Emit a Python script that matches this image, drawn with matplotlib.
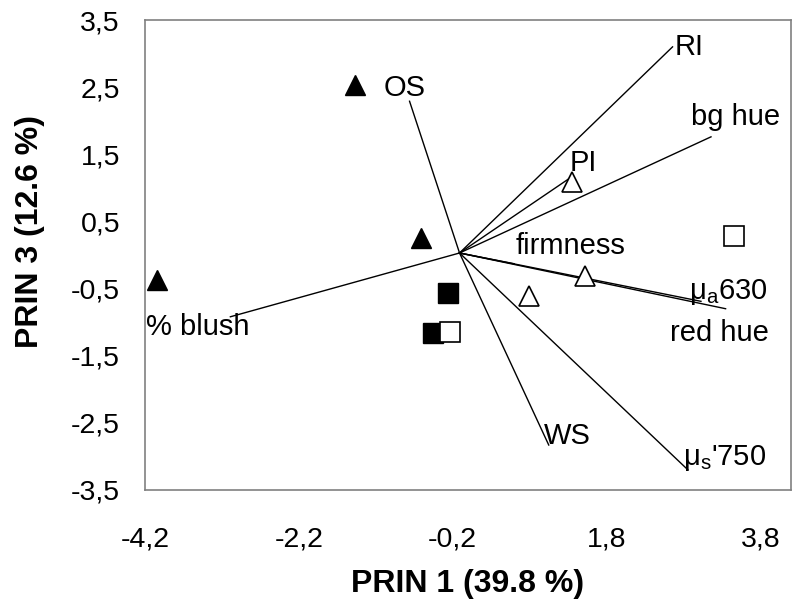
import matplotlib
matplotlib.use("Agg")
import matplotlib.pyplot as plt
from matplotlib.ticker import FuncFormatter

plt.rcParams["font.family"] = ["Liberation Sans", "DejaVu Sans"]
plt.rcParams["mathtext.fontset"] = "custom"
plt.rcParams["mathtext.rm"] = "Liberation Sans"

# PCA scores (PRIN 1, PRIN 3)
filled_tri_x = [-4.05, -1.47, -0.61]
filled_tri_y = [-0.37, 2.53, 0.25]
open_tri_x = [1.35, 0.79, 1.52]
open_tri_y = [1.09, -0.61, -0.31]
filled_sq_x = [-0.26, -0.45]
filled_sq_y = [-0.57, -1.16]
open_sq_x = [-0.23, 3.46]
open_sq_y = [-1.15, 0.28]

# loading vectors, all starting at the common origin
origin = (-0.11, 0.03)
vec_names = ["RI", "bg hue", "PI", "OS", "% blush", "WS",
             "mus750", "mua630", "red hue", "firmness"]
vec_x = [2.66, 3.16, 1.33, -0.76, -3.09, 1.05, 2.86, 3.03, 3.35, 0.60]
vec_y = [3.10, 1.76, 1.15, 2.29, -0.92, -2.83, -3.20, -0.69, -0.80, -0.13]

# label text and where it sits
label_text = ["RI", "bg hue", "PI", "OS", "% blush", "WS",
              r"$\mathregular{\mu_s}$'750", r"$\mathregular{\mu_a}$630",
              "red hue", "firmness"]
label_x = [2.88, 3.48, 1.50, -0.83, -3.52, 1.29, 3.34, 3.38, 3.27, 1.33]
label_y = [3.10, 2.06, 1.37, 2.49, -1.07, -2.70, -3.02, -0.55, -1.16, 0.13]

x_ticks = [-4.2, -2.2, -0.2, 1.8, 3.8]
y_ticks = [-3.5, -2.5, -1.5, -0.5, 0.5, 1.5, 2.5, 3.5]

fig = plt.figure(figsize=(7.92, 6.01), dpi=100)
ax = fig.add_axes([0.1831, 0.1847, 0.8156, 0.782])

for vx, vy in zip(vec_x, vec_y):
    ax.plot([origin[0], vx], [origin[1], vy], color="black", lw=1.0, zorder=2)

ax.plot(filled_tri_x, filled_tri_y, ls="none", marker="^", ms=15,
        mfc="black", mec="black", zorder=3)
ax.plot(open_tri_x, open_tri_y, ls="none", marker="^", ms=15,
        mfc="white", mec="black", mew=1.2, zorder=3)
ax.plot(filled_sq_x, filled_sq_y, ls="none", marker="s", ms=14,
        mfc="black", mec="black", zorder=3)
ax.plot(open_sq_x, open_sq_y, ls="none", marker="s", ms=14,
        mfc="white", mec="black", mew=1.2, zorder=4)

for t, lx, ly in zip(label_text, label_x, label_y):
    ax.text(lx, ly, t, ha="center", va="center", fontsize=21, zorder=5)

ax.set_xlim(-4.2, 4.2)
ax.set_ylim(-3.5, 3.5)
ax.set_xticks(x_ticks)
ax.set_yticks(y_ticks)
fmt = FuncFormatter(lambda v, p: ("%.1f" % v).replace(".", ","))
ax.xaxis.set_major_formatter(fmt)
ax.yaxis.set_major_formatter(fmt)
ax.tick_params(axis="both", length=0, labelsize=20.5)
ax.tick_params(axis="x", pad=26)
ax.tick_params(axis="y", pad=18)

for s in ax.spines.values():
    s.set_color("#808080")
    s.set_linewidth(1.2)

ax.set_xlabel("PRIN 1 (39.8 %)", fontsize=23, fontweight="bold")
ax.set_ylabel("PRIN 3 (12.6 %)", fontsize=23, fontweight="bold")
ax.xaxis.set_label_coords(0.5, -0.2)
ax.xaxis.label.set_va("center")
ax.yaxis.set_label_coords(-0.178, 0.55)
ax.yaxis.label.set_va("center")

fig.savefig("out.png", dpi=100)
